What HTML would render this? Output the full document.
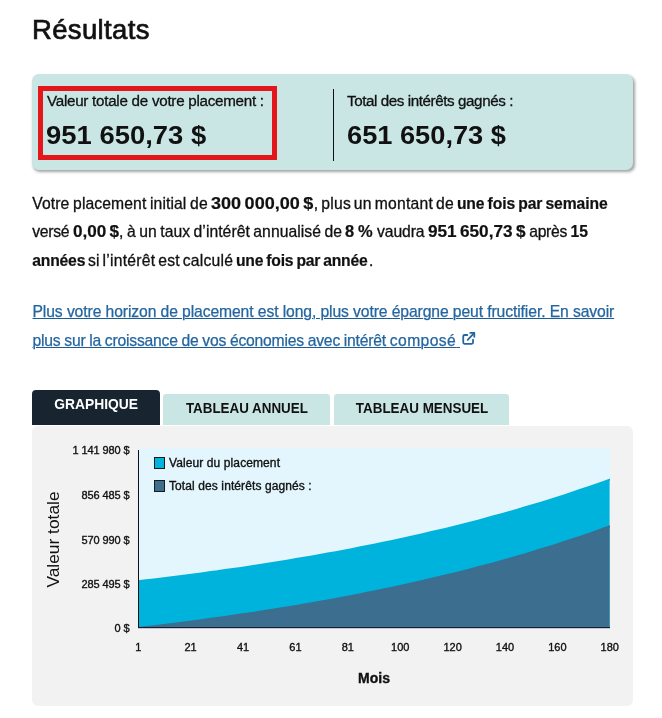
<!DOCTYPE html>
<html lang="fr">
<head>
<meta charset="utf-8">
<title>Résultats</title>
<style>
html,body{margin:0;padding:0;background:#fff;}
body{width:662px;height:718px;position:relative;overflow:hidden;font-family:"Liberation Sans",sans-serif;color:#111;}
.abs{position:absolute;white-space:nowrap;}
h1{position:absolute;left:32px;top:12.7px;margin:0;font-size:27.5px;line-height:34px;font-weight:400;letter-spacing:0.35px;-webkit-text-stroke:0.7px #111;white-space:nowrap;}
.card{position:absolute;left:32px;top:74px;width:601px;height:96px;background:#c9e6e5;border-radius:7px;box-shadow:1.5px 2px 3px rgba(0,0,0,.36);}
.hl{position:absolute;left:38.4px;top:86px;width:228.3px;height:64px;border:5px solid #e3171b;}
.sep{position:absolute;left:333px;top:89px;width:1px;height:72px;background:#111;}
.lab{font-size:15.2px;line-height:18px;letter-spacing:-0.27px;-webkit-text-stroke:0.3px #111;}
.big{font-size:26px;line-height:28px;font-weight:700;transform:scaleX(1.055);transform-origin:0 50%;}
.p{position:absolute;left:32.3px;font-size:15.7px;line-height:28px;white-space:pre;-webkit-text-stroke:0.3px #111;}
.p b{-webkit-text-stroke:0.2px #111;}
.p b.d{display:inline-block;transform-origin:0 50%;}
.p b{font-weight:700;}
a.lk{position:absolute;left:32.5px;font-size:15.7px;line-height:28px;white-space:pre;color:#2466a0;-webkit-text-stroke:0.25px #2466a0;text-decoration:underline;text-decoration-thickness:1.2px;text-underline-offset:1.4px;text-decoration-color:#1d5c92;}
.tab{position:absolute;font-size:14.8px;font-weight:700;text-align:center;white-space:nowrap;}
.tab span{display:inline-block;transform-origin:50% 50%;}
.t1{left:32px;top:390px;width:128px;height:35px;background:#18242f;color:#fff;border-radius:4px 4px 0 0;line-height:28px;}
.t2{left:163px;top:394px;width:167px;height:31px;background:#c9e6e5;color:#111;border-radius:3px 3px 0 0;line-height:28px;}
.t3{left:334px;top:394px;width:175px;height:31px;background:#c9e6e5;color:#111;border-radius:3px 3px 0 0;line-height:28px;}
.panel{position:absolute;left:32px;top:426px;width:601px;height:280px;background:#f2f2f2;border-radius:6px;}
svg{position:absolute;left:0;top:0;}
svg text{font-family:"Liberation Sans",sans-serif;font-size:11px;fill:#111;stroke:#111;stroke-width:0.35px;}
</style>
</head>
<body>
<h1>Résultats</h1>
<div class="card"></div>
<div class="hl"></div>
<div class="abs lab" style="left:47px;top:91.5px;">Valeur totale de votre placement :</div>
<div class="abs big" style="left:46px;top:120.8px;">951 650,73 $</div>
<div class="sep"></div>
<div class="abs lab" style="left:347px;top:91.5px;letter-spacing:-0.42px;">Total des intérêts gagnés :</div>
<div class="abs big" style="left:347.2px;top:120.8px;transform:scaleX(1.047);">651 650,73 $</div>
<div class="p" style="top:190px;"><span style="letter-spacing:0.10px;word-spacing:-0.82px">Votre placement initial de </span><b class="d" style="transform:scaleX(1.150);margin-right:13.35px;word-spacing:-1.30px;">300 000,00 $</b><span style="letter-spacing:0.25px;word-spacing:-1.72px">, plus un montant de </span><b style="letter-spacing:-0.10px;word-spacing:-1.12px">une fois par semaine</b></div>
<div class="p" style="top:218.4px;"><span style="letter-spacing:-0.3px;word-spacing:-0.3px">versé </span><b class="d" style="transform:scaleX(1.090);margin-right:3.81px;word-spacing:-1.30px;">0,00 $</b><span style="letter-spacing:0.05px;word-spacing:-0.92px">, à un taux d’intérêt annualisé de </span><b class="d" style="transform:scaleX(1.050);margin-right:1.32px;word-spacing:-0.60px;">8 %</b><span style="letter-spacing:-0.1px;word-spacing:-0.4px"> vaudra </span><b class="d" style="transform:scaleX(1.095);margin-right:8.46px;word-spacing:-1.30px;">951 650,73 $</b><span style="letter-spacing:-0.3px;word-spacing:-0.6px"> après </span><b style="letter-spacing:0.1px">15</b></div>
<div class="p" style="top:246.8px;"><b style="letter-spacing:-0.2px">années</b><span style="letter-spacing:0.25px;word-spacing:-1.82px"> si l’intérêt est calculé </span><b style="letter-spacing:-0.25px;word-spacing:-0.92px">une fois par année</b><span style="margin-left:1.5px">.</span></div>
<a class="lk" style="top:298px;letter-spacing:-0.1px;">Plus votre horizon de placement est long, plus votre épargne peut fructifier. En savoir</a>
<a class="lk" style="top:327.3px;letter-spacing:-0.2px;word-spacing:-0.4px;">plus sur la croissance de vos économies avec intérêt <span style="letter-spacing:0.4px">composé</span> </a>
<svg class="ext" style="left:460.8px;top:331.1px;" width="16" height="16" viewBox="0 0 16 16" fill="none" stroke="#2466a0" stroke-width="1.8" stroke-linecap="round" stroke-linejoin="round"><path d="M6.3 4H3.5A1.25 1.25 0 0 0 2.25 5.25V11.6A1.25 1.25 0 0 0 3.5 12.85H10.8A1.25 1.25 0 0 0 12.05 11.6V8.7"/><path d="M9.3 1.9H13.3V5.8"/><path d="M13.1 2.1L6.7 8.8"/></svg>
<div class="tab t1"><span style="transform:translateX(0.3px) scaleX(0.935)">GRAPHIQUE</span></div>
<div class="tab t2"><span style="transform:translateX(0.5px) scaleX(0.905)">TABLEAU ANNUEL</span></div>
<div class="tab t3"><span style="transform:translateX(1px) scaleX(0.907)">TABLEAU MENSUEL</span></div>
<div class="panel"></div>
<svg width="662" height="718" viewBox="0 0 662 718">
<rect x="138" y="448" width="472" height="180" fill="#e3f6fd"/>
<clipPath id="pc"><rect x="138" y="448" width="472" height="180"/></clipPath>
<g clip-path="url(#pc)">
<path d="M138.0 628.0L138.0 581.2L145.9 580.3L153.8 579.4L161.7 578.4L169.6 577.5L177.5 576.5L185.4 575.5L193.3 574.5L201.2 573.4L209.1 572.3L217.0 571.3L224.9 570.1L232.8 569.0L240.8 567.9L248.7 566.7L256.6 565.5L264.5 564.3L272.4 563.0L280.3 561.8L288.2 560.5L296.1 559.1L304.0 557.8L311.9 556.4L319.8 555.0L327.7 553.6L335.6 552.2L343.5 550.7L351.4 549.2L359.3 547.6L367.2 546.0L375.1 544.4L383.0 542.8L390.9 541.2L398.8 539.5L406.7 537.7L414.6 536.0L422.5 534.2L430.4 532.3L438.3 530.5L446.3 528.6L454.2 526.6L462.1 524.6L470.0 522.6L477.9 520.6L485.8 518.5L493.7 516.3L501.6 514.1L509.5 511.9L517.4 509.6L525.3 507.3L533.2 505.0L541.1 502.6L549.0 500.1L556.9 497.6L564.8 495.1L572.7 492.5L580.6 489.8L588.5 487.1L596.4 484.4L604.3 481.6L609.6 479.7L609.6 628.0Z" fill="#00b3dd"/>
<path d="M138.0 581.2L145.9 580.3L153.8 579.4L161.7 578.4L169.6 577.5L177.5 576.5L185.4 575.5L193.3 574.5L201.2 573.4L209.1 572.3L217.0 571.3L224.9 570.1L232.8 569.0L240.8 567.9L248.7 566.7L256.6 565.5L264.5 564.3L272.4 563.0L280.3 561.8L288.2 560.5L296.1 559.1L304.0 557.8L311.9 556.4L319.8 555.0L327.7 553.6L335.6 552.2L343.5 550.7L351.4 549.2L359.3 547.6L367.2 546.0L375.1 544.4L383.0 542.8L390.9 541.2L398.8 539.5L406.7 537.7L414.6 536.0L422.5 534.2L430.4 532.3L438.3 530.5L446.3 528.6L454.2 526.6L462.1 524.6L470.0 522.6L477.9 520.6L485.8 518.5L493.7 516.3L501.6 514.1L509.5 511.9L517.4 509.6L525.3 507.3L533.2 505.0L541.1 502.6L549.0 500.1L556.9 497.6L564.8 495.1L572.7 492.5L580.6 489.8L588.5 487.1L596.4 484.4L604.3 481.6L609.6 479.7" fill="none" stroke="#00b3dd" stroke-width="2" stroke-linecap="square"/>
<path d="M138.0 628.0L138.0 628.0L145.9 627.1L153.8 626.2L161.7 625.2L169.6 624.2L177.5 623.3L185.4 622.2L193.3 621.2L201.2 620.2L209.1 619.1L217.0 618.0L224.9 616.9L232.8 615.8L240.8 614.6L248.7 613.5L256.6 612.3L264.5 611.0L272.4 609.8L280.3 608.5L288.2 607.2L296.1 605.9L304.0 604.6L311.9 603.2L319.8 601.8L327.7 600.4L335.6 598.9L343.5 597.4L351.4 595.9L359.3 594.4L367.2 592.8L375.1 591.2L383.0 589.6L390.9 587.9L398.8 586.2L406.7 584.5L414.6 582.7L422.5 580.9L430.4 579.1L438.3 577.2L446.3 575.3L454.2 573.4L462.1 571.4L470.0 569.4L477.9 567.3L485.8 565.2L493.7 563.1L501.6 560.9L509.5 558.7L517.4 556.4L525.3 554.1L533.2 551.7L541.1 549.3L549.0 546.9L556.9 544.4L564.8 541.8L572.7 539.2L580.6 536.6L588.5 533.9L596.4 531.1L604.3 528.3L609.6 526.4L609.6 628.0Z" fill="#3c6e90"/>
<path d="M138.0 628.0L145.9 627.1L153.8 626.2L161.7 625.2L169.6 624.2L177.5 623.3L185.4 622.2L193.3 621.2L201.2 620.2L209.1 619.1L217.0 618.0L224.9 616.9L232.8 615.8L240.8 614.6L248.7 613.5L256.6 612.3L264.5 611.0L272.4 609.8L280.3 608.5L288.2 607.2L296.1 605.9L304.0 604.6L311.9 603.2L319.8 601.8L327.7 600.4L335.6 598.9L343.5 597.4L351.4 595.9L359.3 594.4L367.2 592.8L375.1 591.2L383.0 589.6L390.9 587.9L398.8 586.2L406.7 584.5L414.6 582.7L422.5 580.9L430.4 579.1L438.3 577.2L446.3 575.3L454.2 573.4L462.1 571.4L470.0 569.4L477.9 567.3L485.8 565.2L493.7 563.1L501.6 560.9L509.5 558.7L517.4 556.4L525.3 554.1L533.2 551.7L541.1 549.3L549.0 546.9L556.9 544.4L564.8 541.8L572.7 539.2L580.6 536.6L588.5 533.9L596.4 531.1L604.3 528.3L609.6 526.4" fill="none" stroke="#3c6e90" stroke-width="2" stroke-linecap="square"/>
</g>
<rect x="138" y="450" width="1" height="178" fill="#111"/>
<rect x="138" y="627" width="472" height="1.2" fill="#10203a"/>
<rect x="154.5" y="457.5" width="10" height="11" fill="#00b3dd" stroke="#1a1a1a" stroke-width="1"/>
<rect x="154.5" y="480.5" width="10" height="11" fill="#3c6e90" stroke="#1a1a1a" stroke-width="1"/>
<text x="169" y="466.7" style="font-size:12px;letter-spacing:0.1px">Valeur du placement</text>
<text x="169" y="489.7" style="font-size:12px;letter-spacing:0.1px">Total des intérêts gagnés :</text>
<g style="letter-spacing:-0.1px"><text x="129.6" y="454.0" text-anchor="end">1 141 980 $</text><text x="129.6" y="499.0" text-anchor="end">856 485 $</text><text x="129.6" y="544.0" text-anchor="end">570 990 $</text><text x="129.6" y="588.0" text-anchor="end">285 495 $</text><text x="129.6" y="632.0" text-anchor="end">0 $</text></g>
<g><text x="138.2" y="650.7" text-anchor="middle">1</text><text x="190.6" y="650.7" text-anchor="middle">21</text><text x="243.0" y="650.7" text-anchor="middle">41</text><text x="295.4" y="650.7" text-anchor="middle">61</text><text x="347.8" y="650.7" text-anchor="middle">81</text><text x="400.2" y="650.7" text-anchor="middle">100</text><text x="452.6" y="650.7" text-anchor="middle">120</text><text x="505.0" y="650.7" text-anchor="middle">140</text><text x="557.4" y="650.7" text-anchor="middle">160</text><text x="609.8" y="650.7" text-anchor="middle">180</text></g>
<text x="374" y="683" text-anchor="middle" style="font-size:14px;font-weight:700">Mois</text>
<text transform="translate(58.8 539.5) rotate(-90) scale(1.085 1)" text-anchor="middle" style="font-size:16px;stroke:none">Valeur totale</text>
</svg>
</body>
</html>
